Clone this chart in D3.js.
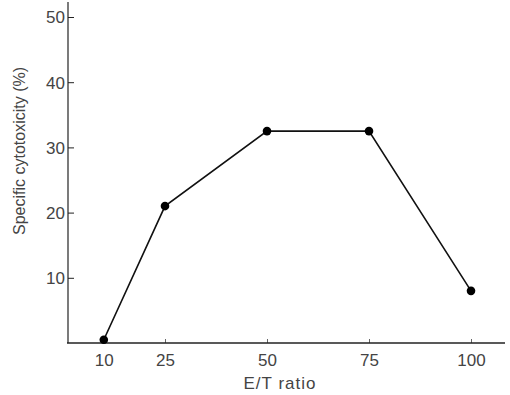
<!DOCTYPE html>
<html>
<head>
<meta charset="utf-8">
<script src="https://cdn.jsdelivr.net/npm/d3@7"></script>
<style>
  body { margin: 0; background: #fff; }
  svg { font-family: "Liberation Sans", Arial, sans-serif; }
</style>
</head>
<body>
<svg width="510" height="395"></svg>
<script>
var ratios = [10, 25, 50, 75, 100];
var cytotoxicity = [0.5, 21, 32.5, 32.5, 8];
var yTicks = [10, 20, 30, 40, 50];

var svg = d3.select("svg");

// scales
var x = d3.scaleLinear().domain([0, 100]).range([63, 471]);
var y = d3.scaleLinear().domain([0, 50]).range([343, 17]);

var axisColor = "#222";

// y axis: ticks point inward
var yAxis = svg.append("g")
    .attr("transform", "translate(" + 68 + ",0)")
    .call(d3.axisRight(y).tickValues(yTicks).tickSize(6).tickFormat(d3.format("d")));
yAxis.select(".domain").remove();
yAxis.selectAll(".tick line").attr("stroke", axisColor);
yAxis.selectAll(".tick text")
    .attr("x", -3)
    .attr("text-anchor", "end")
    .attr("dy", "0.35em")
    .style("font-size", "17px")
    .attr("fill", "#444");
svg.append("line")
    .attr("x1", 68).attr("x2", 68)
    .attr("y1", y(0)).attr("y2", y(52.3))
    .attr("stroke", axisColor).attr("stroke-width", 1.2);

// x axis: ticks point up
var xAxis = svg.append("g")
    .attr("transform", "translate(0," + y(0) + ")")
    .call(d3.axisTop(x).tickValues(ratios).tickSize(4).tickFormat(d3.format("d")));
xAxis.select(".domain").remove();
xAxis.selectAll(".tick line").attr("stroke", "#666");
xAxis.selectAll(".tick text")
    .attr("y", 23)
    .style("font-size", "17px")
    .attr("fill", "#444");
svg.append("line")
    .attr("x1", 67).attr("x2", 505)
    .attr("y1", y(0)).attr("y2", y(0))
    .attr("stroke", axisColor).attr("stroke-width", 1.5);

// axis titles
svg.append("text")
    .attr("x", 280).attr("y", 389)
    .attr("text-anchor", "middle")
    .style("font-size", "17px")
    .style("letter-spacing", "1px")
    .attr("fill", "#444")
    .text("E/T ratio");

svg.append("text")
    .attr("transform", "translate(25,151) rotate(-90)")
    .attr("text-anchor", "middle")
    .style("font-size", "16px")
    .attr("fill", "#444")
    .text("Specific cytotoxicity (%)");

// data
var points = ratios.map(function(r, i) { return { r: r, v: cytotoxicity[i] }; });

svg.append("path")
    .datum(points)
    .attr("fill", "none")
    .attr("stroke", "#111")
    .attr("stroke-width", 1.6)
    .attr("d", d3.line()
        .x(function(d) { return x(d.r); })
        .y(function(d) { return y(d.v); }));

svg.append("g")
    .selectAll("circle")
    .data(points)
    .enter().append("circle")
    .attr("cx", function(d) { return x(d.r); })
    .attr("cy", function(d) { return y(d.v); })
    .attr("r", 4.3)
    .attr("fill", "#000");
</script>
</body>
</html>
